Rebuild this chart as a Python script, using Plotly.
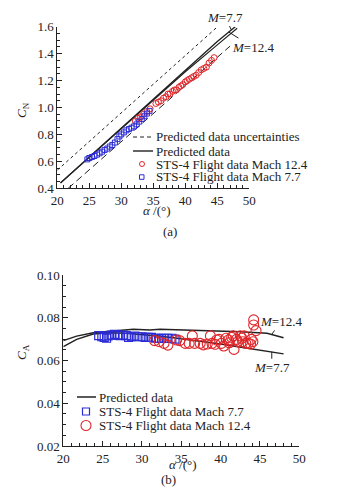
import plotly.graph_objects as go

# ---------------- (a) normal-force coefficient ----------------
alpha_cn_pred77 = [20.5, 25, 30, 35, 40, 45, 47.8]
cn_pred77 = [0.44, 0.632, 0.845, 1.058, 1.275, 1.49, 1.60]
alpha_cn_pred124 = [20.5, 25, 30, 35, 38, 40, 45, 48.1]
cn_pred124 = [0.44, 0.632, 0.845, 1.058, 1.185, 1.265, 1.465, 1.588]
alpha_cn_unc_hi = [20.0, 44.8]
cn_unc_hi = [0.535, 1.59]
alpha_cn_unc_lo = [21.7, 47.0]
cn_unc_lo = [0.40, 1.456]

alpha_cn_m77 = [24.7, 25.0, 25.4, 25.8, 26.2, 26.6, 27.0, 27.4, 27.8, 28.2, 28.6, 29.0, 29.4,
                29.7, 30.0, 30.4, 30.8, 31.2, 31.6, 32.0, 32.4, 32.8, 33.2, 33.6, 34.0, 34.4]
cn_m77 = [0.615, 0.625, 0.632, 0.64, 0.65, 0.66, 0.672, 0.685, 0.695, 0.71, 0.722, 0.74, 0.765,
          0.785, 0.80, 0.815, 0.83, 0.84, 0.85, 0.86, 0.875, 0.895, 0.915, 0.935, 0.955, 0.975]
alpha_cn_m124 = [32.2, 32.6, 33.0, 33.5, 34.0, 34.5, 35.4, 35.8, 36.2, 36.6, 37.0, 37.3, 37.6, 38.0,
                 38.3, 38.6, 39.0, 39.3, 39.6, 40.0, 40.3, 40.6, 41.0, 41.3, 41.7, 42.1, 42.5, 42.9,
                 43.3, 43.7, 44.1, 44.5]
cn_m124 = [0.90, 0.92, 0.93, 0.95, 0.97, 0.99, 1.03, 1.04, 1.05, 1.07, 1.08, 1.10, 1.10, 1.12,
           1.13, 1.13, 1.15, 1.16, 1.17, 1.19, 1.20, 1.21, 1.22, 1.23, 1.24, 1.26, 1.28, 1.29,
           1.30, 1.33, 1.35, 1.37]

# ---------------- (b) axial-force coefficient ----------------
alpha_ca_pred124 = [20, 21.7, 23.8, 26.8, 28.9, 31.0, 32.3, 35.3, 39.5, 42.5, 45.9, 48.0]
ca_pred124 = [0.0693, 0.0714, 0.0730, 0.0740, 0.0746, 0.0743, 0.0746, 0.0743, 0.0740, 0.0735, 0.0727, 0.0706]
alpha_ca_pred77 = [20, 21.7, 23.8, 26, 28, 30, 32, 34, 36, 38, 40, 42, 44, 46, 48]
ca_pred77 = [0.0665, 0.0699, 0.0724, 0.0730, 0.0728, 0.0722, 0.0715, 0.0706, 0.0697, 0.0688,
             0.0677, 0.0665, 0.0654, 0.0643, 0.0631]

alpha_ca_m77 = [24.5, 24.9, 25.2, 25.5, 25.7, 26.1, 26.5, 26.9, 27.2, 27.6, 28.0, 28.3, 28.7,
                29.1, 29.5, 30.0, 30.4, 30.8, 31.2, 31.7, 32.1, 32.5, 32.9, 33.3, 33.8, 34.2]
ca_m77 = [0.0716, 0.0711, 0.0708, 0.0704, 0.0715, 0.0719, 0.0722, 0.0719, 0.0716, 0.0719, 0.0716,
          0.0708, 0.0711, 0.0714, 0.0711, 0.0711, 0.0708, 0.0708, 0.0708, 0.0704, 0.0704, 0.0704,
          0.0704, 0.0704, 0.0704, 0.0700]
alpha_ca_m124 = [31.6, 32.2, 32.8, 33.3, 34.4, 34.8, 35.5, 36.0, 36.4, 36.7, 37.4, 37.8, 38.3, 38.7,
                 38.9, 39.3, 39.5, 39.8, 40.1, 40.4, 40.7, 41.0, 41.1, 41.4, 41.6, 41.7, 42.0, 42.2,
                 42.5, 42.7, 42.8, 43.0, 43.2, 43.5, 43.8, 43.9, 44.1, 44.2, 44.2, 44.5]
ca_m124 = [0.0693, 0.0688, 0.0680, 0.0672, 0.0696, 0.0693, 0.0680, 0.0680, 0.0715, 0.0680, 0.0680,
           0.0673, 0.0677, 0.0715, 0.0680, 0.0676, 0.0696, 0.0699, 0.0680, 0.0668, 0.0704, 0.0696,
           0.0683, 0.0708, 0.0715, 0.0652, 0.0699, 0.0688, 0.0715, 0.0704, 0.0688, 0.0715, 0.0680,
           0.0680, 0.0677, 0.0699, 0.0688, 0.0790, 0.0766, 0.0740]

legend_a_labels = ["Predicted data uncertainties", "Predicted data",
                   "STS-4 Flight data Mach 12.4", "STS-4 Flight data Mach 7.7"]
legend_b_labels = ["Predicted data", "STS-4 Flight data Mach 7.7", "STS-4 Flight data Mach 12.4"]

INK = "#222222"
RED = "#e0262a"
BLUE = "#2a2ad6"
FONT = "Liberation Serif"

# page body has an 8px margin; figure fills the rest of the 341x497 window
OFF = 8
WF, HF = 341 - 2 * OFF, 497 - 2 * OFF


def px(xp):
    return (xp - OFF) / WF


def py(yp):
    return 1 - (yp - OFF) / HF


fig = go.Figure()

# (a) traces
fig.add_trace(go.Scatter(x=alpha_cn_unc_hi, y=cn_unc_hi, mode="lines",
                         line=dict(color=INK, width=1, dash="3px,3px"), xaxis="x", yaxis="y"))
fig.add_trace(go.Scatter(x=alpha_cn_unc_lo, y=cn_unc_lo, mode="lines",
                         line=dict(color=INK, width=1, dash="7px,4px"), xaxis="x", yaxis="y"))
fig.add_trace(go.Scatter(x=alpha_cn_pred77, y=cn_pred77, mode="lines",
                         line=dict(color=INK, width=1.4), xaxis="x", yaxis="y"))
fig.add_trace(go.Scatter(x=alpha_cn_pred124, y=cn_pred124, mode="lines",
                         line=dict(color=INK, width=1.2), xaxis="x", yaxis="y"))
fig.add_trace(go.Scatter(x=alpha_cn_m124, y=cn_m124, mode="markers",
                         marker=dict(symbol="circle-open", size=6, color=RED, line=dict(width=1)),
                         xaxis="x", yaxis="y"))
fig.add_trace(go.Scatter(x=alpha_cn_m77, y=cn_m77, mode="markers",
                         marker=dict(symbol="square-open", size=5, color=BLUE, line=dict(width=1)),
                         xaxis="x", yaxis="y"))

# (b) traces
fig.add_trace(go.Scatter(x=alpha_ca_pred124, y=ca_pred124, mode="lines",
                         line=dict(color=INK, width=1.5), xaxis="x2", yaxis="y2"))
fig.add_trace(go.Scatter(x=alpha_ca_pred77, y=ca_pred77, mode="lines",
                         line=dict(color=INK, width=1.5), xaxis="x2", yaxis="y2"))
fig.add_trace(go.Scatter(x=alpha_ca_m77, y=ca_m77, mode="markers",
                         marker=dict(symbol="square-open", size=8, color=BLUE, line=dict(width=1.2)),
                         xaxis="x2", yaxis="y2"))
fig.add_trace(go.Scatter(x=alpha_ca_m124, y=ca_m124, mode="markers",
                         marker=dict(symbol="circle-open", size=10, color=RED, line=dict(width=1.1)),
                         xaxis="x2", yaxis="y2"))

axis_common = dict(showline=True, linecolor=INK, linewidth=1, mirror=False, showgrid=False,
                   zeroline=False, ticks="inside", ticklen=5, tickwidth=1, tickcolor=INK,
                   automargin=False, tickfont=dict(family=FONT, size=13, color=INK))

fig.update_layout(
    width=WF, height=HF, margin=dict(l=0, r=0, t=0, b=0), showlegend=False,
    paper_bgcolor="white", plot_bgcolor="white",
    font=dict(family=FONT, size=13, color=INK),
    xaxis=dict(domain=[px(57.3), px(249.3)], anchor="y", range=[20, 50], dtick=5,
               minor=dict(ticks="inside", dtick=1, ticklen=3, tickcolor=INK), **axis_common),
    yaxis=dict(domain=[py(188.3), py(26.7)], anchor="x", range=[0.4, 1.6], dtick=0.2, tickformat=".1f",
               minor=dict(ticks="inside", dtick=0.05, ticklen=3, tickcolor=INK), **axis_common),
    xaxis2=dict(domain=[px(63.3), px(299.3)], anchor="y2", range=[20, 50], dtick=5,
                minor=dict(ticks="inside", dtick=1, ticklen=3, tickcolor=INK), **axis_common),
    yaxis2=dict(domain=[py(446), py(275)], anchor="x2", range=[0.02, 0.10], dtick=0.02, tickformat=".2f",
                minor=dict(ticks="inside", dtick=0.005, ticklen=3, tickcolor=INK), **axis_common),
)

ann_font = dict(family=FONT, size=13, color=INK)


def label(text, xp, yp, **kw):
    d = dict(text=text, x=px(xp), y=py(yp), xref="paper", yref="paper", showarrow=False,
             xanchor="center", yanchor="middle", font=ann_font)
    d.update(kw)
    return d


annotations = [
    label("<i>C</i><sub>N</sub>", 22, 110, textangle=-90),
    label("<i>C</i><sub>A</sub>", 22, 352, textangle=-90),
    label("<i>α</i> /(°)", 157, 210),
    label("<i>α</i> /(°)", 183, 464),
    label("(a)", 170, 231),
    label("(b)", 168, 479),
    # Mach labels with leader lines
    dict(text="<i>M</i>=7.7", x=47.2, y=1.575, xref="x", yref="y", ax=-6, ay=-13,
         showarrow=True, arrowhead=0, arrowwidth=1, arrowcolor=INK, font=ann_font),
    dict(text="<i>M</i>=12.4", x=46.8, y=1.56, xref="x", yref="y", ax=24, ay=15,
         showarrow=True, arrowhead=0, arrowwidth=1, arrowcolor=INK, font=ann_font),
    dict(text="<i>M</i>=12.4", x=46.5, y=0.0722, xref="x2", yref="y2", ax=9, ay=-13,
         showarrow=True, arrowhead=0, arrowwidth=1, arrowcolor=INK, font=ann_font),
    dict(text="<i>M</i>=7.7", x=46.5, y=0.0641, xref="x2", yref="y2", ax=0, ay=16,
         showarrow=True, arrowhead=0, arrowwidth=1, arrowcolor=INK, font=ann_font),
]

shapes = []
# legend (a): rows at window y = 137, 151, 164, 177; text from x = 154
rows_a = [137, 151, 164, 177]
for lab, yy in zip(legend_a_labels, rows_a):
    annotations.append(label(lab, 154, yy, xanchor="left"))
shapes.append(dict(type="line", xref="paper", yref="paper", x0=px(133), x1=px(153), y0=py(137), y1=py(137),
                   line=dict(color=INK, width=1, dash="4px,3px")))
shapes.append(dict(type="line", xref="paper", yref="paper", x0=px(133), x1=px(153), y0=py(151), y1=py(151),
                   line=dict(color=INK, width=1.4)))
shapes.append(dict(type="circle", xref="paper", yref="paper", x0=px(139.5), x1=px(144.5),
                   y0=py(166.5), y1=py(161.5), line=dict(color=RED, width=1)))
shapes.append(dict(type="rect", xref="paper", yref="paper", x0=px(139.5), x1=px(144), y0=py(179.3), y1=py(174.8),
                   line=dict(color=BLUE, width=1)))

# legend (b): rows at window y = 397, 411.5, 425.5; text from x = 97
rows_b = [397, 411.5, 425.5]
for lab, yy in zip(legend_b_labels, rows_b):
    annotations.append(label(lab, 97, yy, xanchor="left"))
shapes.append(dict(type="line", xref="paper", yref="paper", x0=px(77), x1=px(96), y0=py(397), y1=py(397),
                   line=dict(color=INK, width=1.5)))
shapes.append(dict(type="rect", xref="paper", yref="paper", x0=px(82.5), x1=px(89.5), y0=py(415), y1=py(408),
                   line=dict(color=BLUE, width=1.2)))
shapes.append(dict(type="circle", xref="paper", yref="paper", x0=px(81), x1=px(91), y0=py(430.5), y1=py(420.5),
                   line=dict(color=RED, width=1.1)))

fig.update_layout(annotations=annotations, shapes=shapes)

fig.write_html("out.html")
